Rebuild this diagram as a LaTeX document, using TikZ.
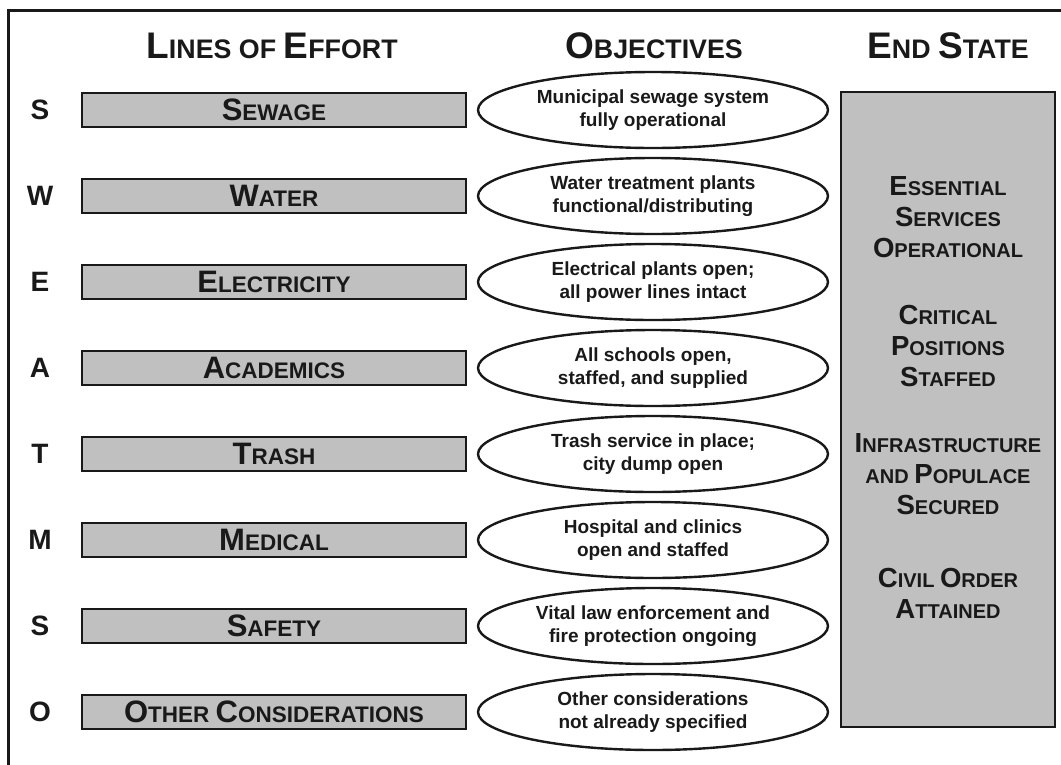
\documentclass[tikz,border=0pt]{standalone}
\usepackage{fontspec}
\setmainfont{Liberation Sans}
\usetikzlibrary{shapes.geometric}
\definecolor{barfill}{RGB}{192,192,192}
\definecolor{ink}{RGB}{25,25,25}
\newcommand\Hb[1]{{\fontsize{37}{37}\selectfont #1}}
\newcommand\Bb[1]{{\fontsize{31}{31}\selectfont #1}}
\newcommand\Eb[1]{{\fontsize{27.6}{27.6}\selectfont #1}}
\tikzset{
  hdr/.style={anchor=base, font=\fontsize{26.8}{30}\selectfont\bfseries, text=ink, inner sep=0},
  letter/.style={font=\fontsize{28}{30}\selectfont\bfseries, text=ink, inner sep=0},
  bar/.style={draw=ink, line width=2pt, fill=barfill, minimum width=384pt, minimum height=34pt, inner sep=0,
              font=\fontsize{22.5}{26}\selectfont\bfseries, text=ink},
  obj/.style={ellipse, draw=ink, line width=2.4pt, fill=white, minimum width=350pt, minimum height=76pt, inner sep=0,
              align=center, font=\fontsize{19}{23}\selectfont\bfseries, text=ink},
  endbox/.style={draw=ink, line width=2pt, fill=barfill, minimum width=214pt, minimum height=635pt, inner sep=0},
  endtxt/.style={align=center, font=\fontsize{20}{31}\selectfont\bfseries, text=ink, inner sep=0},
}
\begin{document}
\begin{tikzpicture}[x=1pt, y=-1pt]
\useasboundingbox (0,0) rectangle (1061,764);
\fill[white] (0,0) rectangle (1061,764);
% frame
\draw[ink, line width=3pt] (8,766) -- (8,10) -- (1063,10);
% headers
\node[hdr] (h1) at (272,58) {\Hb{L}INES OF \Hb{E}FFORT};
\node[hdr] (h2) at (654,58) {\Hb{O}BJECTIVES};
\node[hdr] (h3) at (948,58) {\Hb{E}ND \Hb{S}TATE};
% end state box
\node[endbox] (es) at (948,409.5) {};
\node[endtxt] (e1) at (948,217) {\Eb{E}SSENTIAL\\\Eb{S}ERVICES\\\Eb{O}PERATIONAL};
\node[endtxt] (e2) at (948,346) {\Eb{C}RITICAL\\\Eb{P}OSITIONS\\\Eb{S}TAFFED};
\node[endtxt] (e3) at (948,474) {\Eb{I}NFRASTRUCTURE\\AND \Eb{P}OPULACE\\\Eb{S}ECURED};
\node[endtxt] (e4) at (948,593) {\Eb{C}IVIL \Eb{O}RDER\\\Eb{A}TTAINED};
% rows
\foreach \i/\L/\B/\O in {
  1/S/{\Bb{S}EWAGE}/{Municipal sewage system\\fully operational},
  2/W/{\Bb{W}ATER}/{Water treatment plants\\functional/distributing},
  3/E/{\Bb{E}LECTRICITY}/{Electrical plants open;\\all power lines intact},
  4/A/{\Bb{A}CADEMICS}/{All schools open,\\staffed, and supplied},
  5/T/{\Bb{T}RASH}/{Trash service in place;\\city dump open},
  6/M/{\Bb{M}EDICAL}/{Hospital and clinics\\open and staffed},
  7/S/{\Bb{S}AFETY}/{Vital law enforcement and\\fire protection ongoing},
  8/O/{\Bb{O}THER \Bb{C}ONSIDERATIONS}/{Other considerations\\not already specified}}{
  \pgfmathsetmacro\yy{110+86*(\i-1)}
  \node[letter] (l\i) at (40,\yy) {\L};
  \node[bar] (b\i) at (274,\yy) {\B};
  \node[obj] (o\i) at (653,\yy) {\O};
}
\end{tikzpicture}
\end{document}
